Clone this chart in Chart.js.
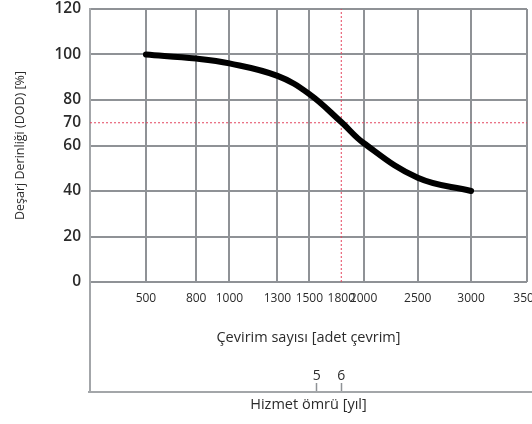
<!DOCTYPE html>
<html>
<head>
<meta charset="utf-8">
<script src="https://cdn.jsdelivr.net/npm/chart.js@4/dist/chart.umd.min.js"></script>
<style>
  html, body { margin: 0; padding: 0; background: #fff; overflow: hidden; }
  #wrap { width: 532px; height: 424px; position: relative; }
</style>
</head>
<body>
<div id="wrap"><canvas id="chart"></canvas></div>
<script>
// Curve
const cycles = [500, 800, 1000, 1300, 1500, 1800, 2000, 2500, 3000];
const dod = [100, 98.2, 96.1, 90.6, 82.6, 70.3, 61.1, 45.8, 40];

// Tick labels
const cycleTicks = [0, 500, 800, 1000, 1300, 1500, 1800, 2000, 2500, 3000, 3500];
const dodTicks = [0, 20, 40, 60, 70, 80, 100, 120];
const years = [5, 6];
const yearCycles = [1570, 1800];

// Reference lines
const limitDod = 70;
const limitCycles = 1800;

// The printed cycle axis is unevenly spaced: where each tick sits, 0..100 across the plot
const cycleAxisSlots = [0, 12.8, 24.3, 31.9, 42.9, 50.2, 57.5, 62.6, 75.0, 87.2, 100];

function cyclePos(c) {
    for (let i = 1; i < cycleTicks.length; i++) {
        if (c <= cycleTicks[i]) {
            const t = (c - cycleTicks[i - 1]) / (cycleTicks[i] - cycleTicks[i - 1]);
            return cycleAxisSlots[i - 1] + t * (cycleAxisSlots[i] - cycleAxisSlots[i - 1]);
        }
    }
    return 100;
}

const gridGrey = '#8f9296';
const frameGrey = '#a3a6a9';
const red = '#e4455f';
const textColor = '#2b2b2b';
const fontFamily = '"Open Sans", "Noto Sans", sans-serif';

// no extra room for the outer labels: the last one runs off the edge as in the print
function noPadding(scale) {
    scale.paddingLeft = 0;
    scale.paddingRight = 0;
    scale.paddingTop = 0;
    scale.paddingBottom = 0;
}

const framePlugin = {
    id: 'frame',
    afterDraw(chart) {
        const ctx = chart.ctx;
        const area = chart.chartArea;
        const x2 = chart.scales.x2;
        const baseY = x2.top + 9;
        ctx.save();
        ctx.strokeStyle = frameGrey;
        ctx.lineWidth = 2;
        ctx.beginPath();
        ctx.moveTo(area.left, area.bottom);
        ctx.lineTo(area.left, baseY);
        ctx.moveTo(area.left - 2, baseY);
        ctx.lineTo(chart.width, baseY);
        ctx.stroke();
        // year ticks sit on the base line with labels above
        ctx.fillStyle = textColor;
        ctx.font = '14px ' + fontFamily;
        ctx.textAlign = 'center';
        ctx.textBaseline = 'middle';
        x2.ticks.forEach((t, i) => {
            const px = x2.getPixelForValue(t.value);
            ctx.fillText(String(years[i]), px, baseY - 16);
        });
        ctx.restore();
    }
};

new Chart(document.getElementById('chart'), {
    type: 'line',
    data: {
        datasets: [
            {
                data: cycles.map((c, i) => ({ x: cyclePos(c), y: dod[i] })),
                borderColor: '#000',
                borderWidth: 6,
                borderCapStyle: 'round',
                borderJoinStyle: 'round',
                tension: 0.4,
                pointRadius: 0,
                order: 0
            },
            {
                data: [{ x: 0, y: limitDod }, { x: 100, y: limitDod }],
                borderColor: red,
                borderWidth: 1,
                borderDash: [2, 2],
                pointRadius: 0,
                order: 1
            },
            {
                data: [{ x: cyclePos(limitCycles), y: 0 }, { x: cyclePos(limitCycles), y: 120 }],
                borderColor: red,
                borderWidth: 1,
                borderDash: [2, 2],
                pointRadius: 0,
                order: 1
            }
        ]
    },
    options: {
        responsive: true,
        maintainAspectRatio: false,
        animation: false,
        layout: { autoPadding: false, padding: { top: 9, right: 5, left: 0, bottom: 0 } },
        plugins: {
            legend: { display: false },
            tooltip: { enabled: false }
        },
        scales: {
            y: {
                type: 'linear',
                position: 'left',
                min: 0,
                max: 120,
                afterBuildTicks: (scale) => { scale.ticks = dodTicks.map(v => ({ value: v })); },
                afterFit: (scale) => { scale.width = 90; noPadding(scale); },
                grid: {
                    color: (ctx) => ctx.tick && ctx.tick.value === limitDod ? 'rgba(0,0,0,0)' : gridGrey,
                    lineWidth: 2,
                    drawTicks: false
                },
                border: { display: true, color: frameGrey, width: 2 },
                ticks: {
                    padding: 9,
                    color: textColor,
                    font: { family: fontFamily, size: 15.5, weight: '600' }
                },
                title: {
                    display: true,
                    text: 'Deşarj Derinliği (DOD) [%]',
                    color: textColor,
                    font: { family: fontFamily, size: 12.5 },
                    padding: { top: 13, bottom: 0 }
                }
            },
            x: {
                type: 'linear',
                position: 'bottom',
                min: 0,
                max: 100,
                afterBuildTicks: (scale) => { scale.ticks = cycleAxisSlots.map(v => ({ value: v })); },
                afterFit: (scale) => { scale.height = 101; noPadding(scale); },
                grid: {
                    color: (ctx) => ctx.index === cycleTicks.indexOf(limitCycles) ? 'rgba(0,0,0,0)' : gridGrey,
                    lineWidth: 2,
                    drawTicks: false
                },
                border: { display: false },
                ticks: {
                    padding: 9,
                    maxRotation: 0,
                    autoSkip: false,
                    color: textColor,
                    font: { family: fontFamily, size: 12 },
                    callback: (value, index) => index === 0 ? '' : String(cycleTicks[index])
                },
                title: {
                    display: true,
                    text: 'Çevirim sayısı [adet çevrim]',
                    color: textColor,
                    font: { family: fontFamily, size: 14.5 },
                    padding: { top: 0, bottom: 36 }
                }
            },
            x2: {
                type: 'linear',
                position: 'bottom',
                min: 0,
                max: 100,
                afterBuildTicks: (scale) => { scale.ticks = yearCycles.map(c => ({ value: cyclePos(c) })); },
                afterFit: (scale) => { scale.height = 41; noPadding(scale); },
                grid: {
                    drawOnChartArea: false,
                    drawTicks: true,
                    tickLength: 9,
                    tickColor: gridGrey,
                    tickWidth: 1.5
                },
                border: { display: false },
                ticks: { display: false },
                title: {
                    display: true,
                    text: 'Hizmet ömrü [yıl]',
                    color: textColor,
                    font: { family: fontFamily, size: 14.5 },
                    padding: { top: 0, bottom: 10 }
                }
            }
        }
    },
    plugins: [framePlugin]
});
</script>
</body>
</html>
